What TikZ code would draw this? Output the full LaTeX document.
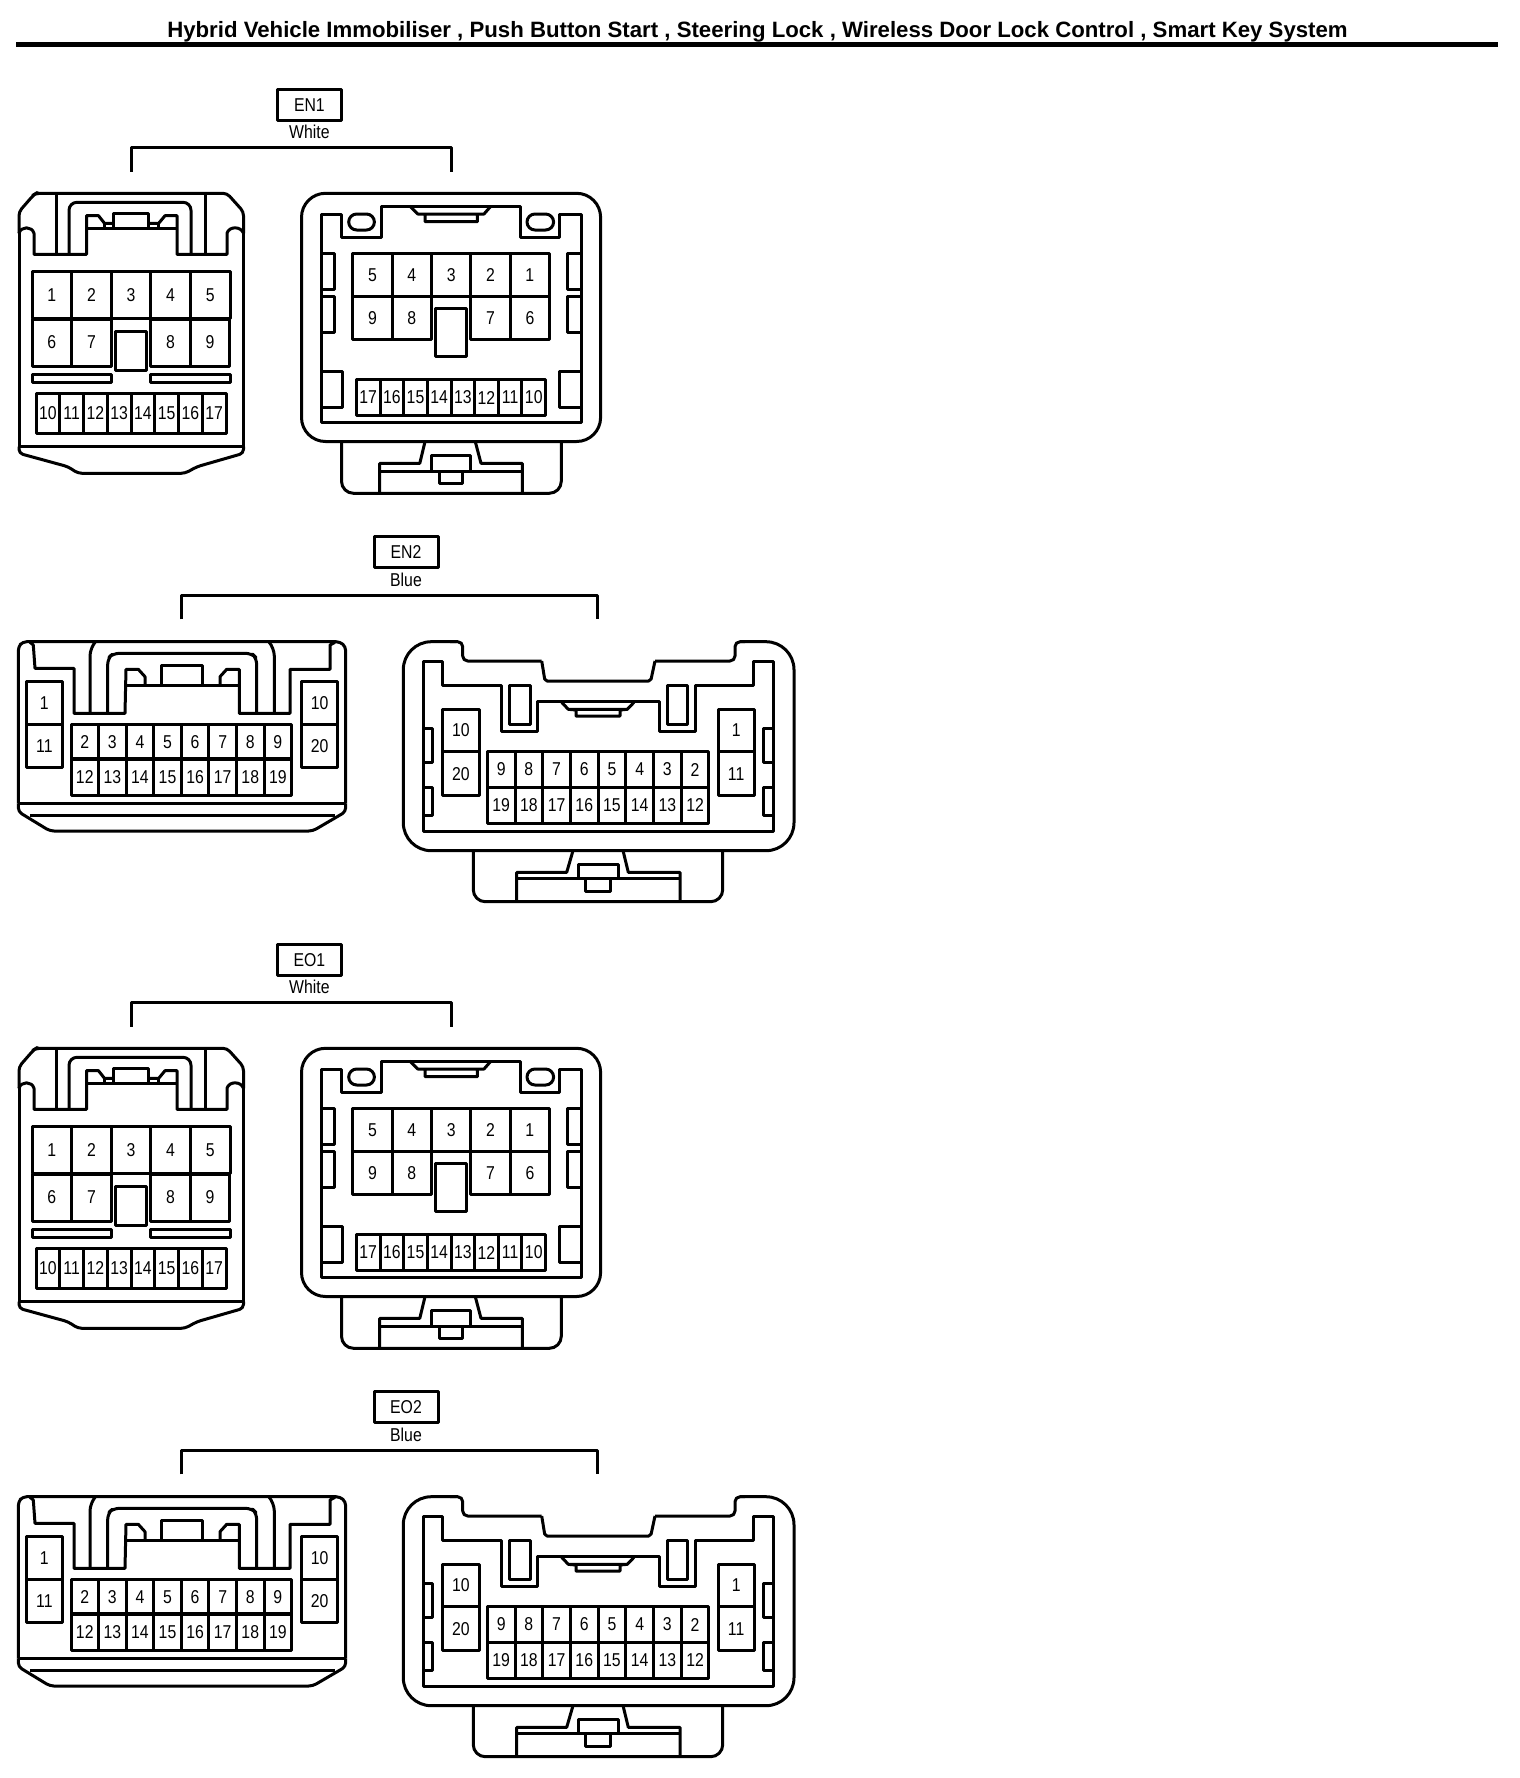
\documentclass[tikz,border=0pt]{standalone}
\usepackage{fontspec}
\setmainfont{Liberation Sans}
\newfontfamily\pinfont[FakeStretch=0.85]{Liberation Sans}
\tikzset{
    conn/.style={line width=1.5pt},
    pin/.style={draw, line width=1.5pt, inner sep=0pt, outer sep=0pt, font=\pinfont\fontsize{9.3}{11}\selectfont},
    tagbox/.style={pin, minimum width=32pt, minimum height=15.7pt},
    colourtag/.style={inner sep=0pt, font=\pinfont\fontsize{9.3}{11}\selectfont},
    whiteplug/.pic={
        \draw[conn, rounded corners=2pt] (19,233.3) -- (19,211.7) -- (34,194.5) -- (36,193.3) -- (227,193.3) -- (243.5,211.7) -- (243.5,233.3);
        \draw[conn] (19,233.3) -- (19,446.7) (243.5,233.3) -- (243.5,446.7);
        \draw[conn] (19,233.3) .. controls (21,226) and (32,226) .. (34,233.3) -- (34,254.3) -- (86.5,254.3) -- (86.5,215.7) -- (98.5,215.7) -- (104.5,223.3) -- (113,223.3);
        \draw[conn] (243.5,233.3) .. controls (241,226) and (229,226) .. (227,233.3) -- (227,254.3) -- (177,254.3) -- (177,215.7) -- (165,215.7) -- (158.7,223.3) -- (148,223.3);
        \draw[conn] (86.5,228.3) -- (177,228.3) (104.5,223.3) -- (104.5,228.3) (158.7,223.3) -- (158.7,228.3);
        \draw[conn] (113,228.3) -- (113,213.3) -- (148,213.3) -- (148,228.3);
        \draw[conn, rounded corners=3pt] (56,254.3) -- (56,193.3) (205,254.3) -- (205,193.3);
        \draw[conn, rounded corners=4pt] (69,254.3) -- (69,202.3) -- (191,202.3) -- (191,254.3);
        \draw[conn] (19,446.7) -- (243.5,446.7);
        \draw[conn, rounded corners=2pt] (19,446.7) -- (19,453.3) -- (68,466.7) -- (78,473.3) -- (185,473.3) -- (197,466.7) -- (243.5,453.3) -- (243.5,446.7);
        \pinrow{32}{39.6}{295.3}{47.3}{1,2,3,4,5}
        \pinrow{32}{39.6}{342.5}{47}{6,7}
        \pinrow{150.7}{39.6}{342.5}{47}{8,9}
        \pinrow{36}{23.75}{413.3}{40}{10,11,12,13,14,15,16,17}
        \draw[conn] (115.3,331) rectangle (146.6,370.7);
        \draw[conn] (32,374) rectangle (111.3,382) (150.7,374) rectangle (230,382);
    },
    whitesocket/.pic={
        \draw[conn, rounded corners=12pt] (301.5,193.3) rectangle (600.6,441.5);
        \draw[conn] (321.4,422.3) -- (321.4,214) -- (341.5,214) -- (341.5,237.3) -- (381.7,237.3) -- (381.7,206) -- (520.3,206) -- (520.3,237.3) -- (559.7,237.3) -- (559.7,214) -- (581.4,214) -- (581.4,422.3) -- cycle;
        \draw[conn] (409.8,206) -- (417.8,214) -- (425,214) -- (425,221.7) -- (477.3,221.7) -- (477.3,214) -- (484,214) -- (491,206) (417.8,214) -- (484,214);
        \draw[conn, rounded corners=4pt] (348.7,214) rectangle (374.4,230) (527,214) rectangle (553.6,230);
        \draw[conn] (321.4,253.3) -- (334.3,253.3) -- (334.3,289) -- (321.4,289) (321.4,296.7) -- (334.3,296.7) -- (334.3,332.7) -- (321.4,332.7);
        \draw[conn] (581.4,253.3) -- (567.7,253.3) -- (567.7,289) -- (581.4,289) (581.4,296.7) -- (567.7,296.7) -- (567.7,332.7) -- (581.4,332.7);
        \draw[conn] (321.4,371) -- (342.3,371) -- (342.3,407.3) -- (321.4,407.3) (581.4,371) -- (559.7,371) -- (559.7,407.3) -- (581.4,407.3);
        \pinrow{352.8}{39.35}{275}{43.4}{5,4,3,2,1}
        \pinrow{352.8}{39.35}{318}{42.6}{9,8}
        \pinrow{470.9}{39.35}{318}{42.6}{7,6}
        \pinrow{356.4}{23.65}{397.5}{36.4}{17,16,15,14,13,12,11,10}
        \draw[conn] (435,308.3) rectangle (466.9,356);
        \draw[conn, rounded corners=6pt] (341.5,441.7) -- (341.5,493.3) -- (561.3,493.3) -- (561.3,441.7);
        \draw[conn] (379.7,493.3) -- (379.7,463.3) -- (419.8,463.3) -- (425,441.7) (522.3,493.3) -- (522.3,463.3) -- (481,463.3) -- (475.3,441.7);
        \draw[conn] (379.7,471.7) -- (522.3,471.7) (431,471.7) -- (431,455) -- (470,455) -- (470,471.7);
        \draw[conn] (439,471.7) -- (439,483.3) -- (462.8,483.3) -- (462.8,471.7);
    },
    blueplug/.pic={
        \draw[conn, rounded corners=2pt] (18.3,803.3) -- (18.3,646.7) -- (22.7,641.7) -- (340,641.7) -- (345.7,646.7) -- (345.7,803.3);
        \draw[conn] (18.3,803.3) -- (345.7,803.3) (30,815) -- (335,815);
        \draw[conn, rounded corners=2pt] (18.3,803.3) -- (18.3,811.7) -- (50,831) -- (312.7,831) -- (345.7,811.7) -- (345.7,803.3);
        \draw[conn] (30,642.3) -- (33.3,645) -- (35,668.3) -- (74,668.3) -- (74,713.3) -- (125,713.3) -- (126,669.3) -- (138.3,669.3) -- (145,676.7) -- (145,685);
        \draw[conn] (220,685) -- (220,676.7) -- (226.7,669.3) -- (239.3,669.3) -- (239.3,713.3) -- (290,713.3) -- (290,669.3) -- (330,669.3) -- (330,645) -- (335,642.3);
        \draw[conn] (126.7,685) -- (238.3,685) (161,685) -- (161,665.7) -- (202.7,665.7) -- (202.7,685);
        \draw[conn, rounded corners=4pt] (90,713.3) -- (90,648) -- (95,642.3) (274.3,713.3) -- (274.3,648) -- (269.3,642.3);
        \draw[conn, rounded corners=3pt] (107.7,713.3) -- (107.7,658.3) -- (113.3,653.3) -- (251.7,653.3) -- (256.7,658.3) -- (256.7,713.3);
        \pinrow{26.7}{35.3}{702.7}{43.3}{1}
        \pinrow{26.7}{35.3}{746}{43.3}{11}
        \pinrow{301.7}{36}{702.7}{43.3}{10}
        \pinrow{301.7}{36}{746}{43.3}{20}
        \pinrow{71}{27.58}{741.7}{34.7}{2,3,4,5,6,7,8,9}
        \pinrow{71}{27.58}{777.3}{36.7}{12,13,14,15,16,17,18,19}
    },
    bluesocket/.pic={
        \draw[conn, rounded corners=14pt] (456.7,641.7) -- (403.3,641.7) -- (403.3,850.7) -- (794,850.7) -- (794,641.7) -- (740,641.7);
        \draw[conn, rounded corners=2.5pt] (450,641.7) -- (462.7,641.7) -- (462.7,661) -- (541.7,661);
        \draw[conn, rounded corners=2.5pt] (655,661) -- (735,661) -- (735,641.7) -- (745,641.7);
        \draw[conn, rounded corners=1pt] (541.7,661) -- (545,681) -- (650.7,681) -- (655,661);
        \draw[conn] (423.3,831.7) -- (423.3,661) -- (442.3,661) -- (442.3,685) -- (501.7,685) -- (501.7,731.7) -- (537.7,731.7) -- (537.7,701.7) -- (659.3,701.7) -- (659.3,731.7) -- (695,731.7) -- (695,685) -- (753.3,685) -- (753.3,661) -- (773.3,661) -- (773.3,831.7) -- cycle;
        \draw[conn] (509.3,685) rectangle (530,724) (667.3,685) rectangle (687.3,724);
        \draw[conn] (561.7,702.3) -- (568.3,709.3) -- (576,710) -- (576,716) -- (620,716) -- (620,710) -- (627.3,709.3) -- (634,702.3) (568.3,709.3) -- (627.3,709.3);
        \draw[conn] (423.3,728.3) -- (432.7,728.3) -- (432.7,762.3) -- (423.3,762.3) (423.3,787.3) -- (432.7,787.3) -- (432.7,815) -- (423.3,815);
        \draw[conn] (773.3,728.3) -- (763.3,728.3) -- (763.3,762.3) -- (773.3,762.3) (773.3,787.3) -- (763.3,787.3) -- (763.3,815) -- (773.3,815);
        \pinrow{442.3}{37}{730.5}{42.4}{10}
        \pinrow{442.3}{37}{773.7}{44}{20}
        \pinrow{718.3}{35.7}{730.5}{42.4}{1}
        \pinrow{718.3}{35.7}{773.7}{44}{11}
        \pinrow{487.3}{27.7}{769.5}{35.6}{9,8,7,6,5,4,3,2}
        \pinrow{487.3}{27.7}{805.3}{36}{19,18,17,16,15,14,13,12}
        \draw[conn, rounded corners=6pt] (473.3,851.7) -- (473.3,901.7) -- (722.7,901.7) -- (722.7,851.7);
        \draw[conn] (516.7,901.7) -- (516.7,872.3) -- (566.7,872.3) -- (572.7,851.7) (680,901.7) -- (680,872.3) -- (628.3,872.3) -- (623.3,851.7);
        \draw[conn] (516.7,878.3) -- (680,878.3) (578.3,878.3) -- (578.3,864.3) -- (618.3,864.3) -- (618.3,878.3);
        \draw[conn] (585.7,878.3) -- (585.7,891) -- (610,891) -- (610,878.3);
    },
}
\newcommand{\pinrow}[5]{%
    \foreach \lab [count=\k] in {#5}{
        \node[pin, minimum width=#2*0.5pt, minimum height=#4*0.5pt] (p\lab) at ({#1+#2*(\k-0.5)},#3) {\lab};
    }
}

\begin{document}
\begin{tikzpicture}[x=0.5pt, y=-0.5pt, line join=round]
    \useasboundingbox (0,0) rectangle (1520,1778);
    \node[inner sep=0pt, font=\bfseries\fontsize{11.1}{13}\selectfont] (title) at (757.5,32) {Hybrid Vehicle Immobiliser , Push Button Start , Steering Lock , Wireless Door Lock Control , Smart Key System};
    \coordinate (rulel) at (16,44.2);
    \coordinate (ruler) at (1498,44.2);
    \draw[line width=2.5pt] (rulel) -- (ruler);
    % white connectors
    \foreach \tagname/\colname/\yoff in {EN1/White/0, EO1/White/855}{
        \begin{scope}[shift={(0,\yoff)}]
            \node[tagbox] (\tagname) at (309.4,105) {\tagname};
            \node[colourtag] (\tagname col) at (309.4,132) {\colname};
            \coordinate (\tagname l) at (131,171.7);
            \coordinate (\tagname r) at (451,171.7);
            \draw[conn] (\tagname l) -- ++(0,-24.4) -| (\tagname r);
            \pic (\tagname a) {whiteplug};
            \pic (\tagname b) {whitesocket};
        \end{scope}
    }
    % blue connectors
    \foreach \tagname/\colname/\yoff in {EN2/Blue/0, EO2/Blue/855}{
        \begin{scope}[shift={(0,\yoff)}]
            \node[tagbox] (\tagname) at (406,551.7) {\tagname};
            \node[colourtag] (\tagname col) at (406,579.5) {\colname};
            \coordinate (\tagname l) at (181.7,619.3);
            \coordinate (\tagname r) at (597.7,619.3);
            \draw[conn] (\tagname l) -- ++(0,-24.3) -| (\tagname r);
            \pic (\tagname a) {blueplug};
            \pic (\tagname b) {bluesocket};
        \end{scope}
    }
\end{tikzpicture}
\end{document}
